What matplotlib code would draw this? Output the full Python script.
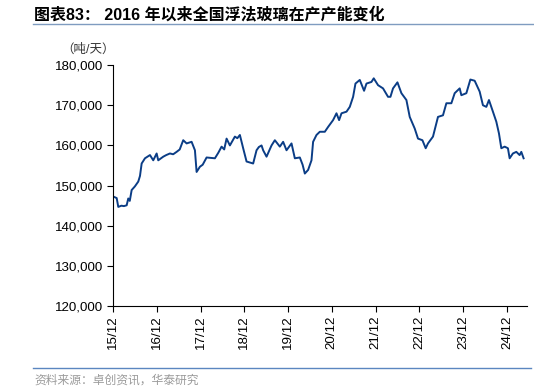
import numpy as np
import pandas as pd
import matplotlib
matplotlib.use("Agg")
import matplotlib.pyplot as plt

plt.rcParams['font.family'] = ['Liberation Sans', 'Noto Sans CJK SC', 'DejaVu Sans']

# 月份偏移(自2015-12起) 与 在产产能(吨/天)
months = [0.0, 0.27, 1.01, 1.45, 2.3, 3.0, 3.75, 4.19, 4.6, 5.12, 6.0, 6.93, 7.4, 7.86,
          8.77, 10.14, 11.04, 11.97, 12.41, 13.78, 14.6, 15.62, 16.5, 17.45, 18.3, 19.26,
          20.19, 21.56, 22.47, 22.93, 23.84, 24.6, 25.67, 27.95, 28.9, 29.78, 30.5, 31.15,
          32.06, 33.43, 34.1, 34.80, 35.70, 36.63, 38.44, 39.37, 40.0, 40.74, 41.18, 42.11,
          43.48, 44.39, 45.76, 46.66, 47.59, 48.96, 49.87, 51.24, 52.0, 52.61, 53.51, 54.44,
          54.88, 55.81, 56.72, 58.09, 58.99, 60.36, 61.29, 62.01, 62.67, 64.04, 64.94, 65.85,
          66.5, 67.68, 68.86, 69.52, 70.88, 71.51, 72.69, 74.06, 75.43, 76.09, 76.80, 78.01,
          79.10, 80.47, 81.38, 82.75, 83.65, 84.86, 85.76, 86.39, 87.76, 89.13, 90.50, 91.43,
          92.80, 93.71, 95.08, 95.54, 96.91, 98.01, 99.19, 100.56, 101.46, 102.39, 103.11,
          104.20, 105.13, 105.85, 106.50, 107.41, 108.31, 108.78, 109.68, 110.61, 111.52,
          111.98, 112.61]
capacity = [147300, 147200, 146900, 144700, 145000, 144900, 145100, 146800, 146200, 148900,
            149800, 151000, 152400, 155500, 156800, 157600, 156300, 158000, 156300, 157200,
            157600, 158000, 157800, 158400, 159000, 161300, 160500, 160900, 158800, 153400,
            154700, 155200, 157000, 156800, 158200, 159700, 159000, 161700, 160000, 162200,
            161800, 162600, 159300, 156000, 155500, 158800, 159600, 160000, 158800, 157200,
            160000, 161300, 159700, 160900, 158800, 160500, 156800, 157000, 155200, 153000,
            153900, 156300, 160900, 162600, 163400, 163400, 164600, 166300, 168000,
            166300, 168000, 168400, 169600, 172100, 175400, 176300, 173600, 175400, 175800,
            176700, 175000, 174200, 172100, 172100, 174200, 175700, 173000, 171300, 167100,
            164200, 161700, 161300, 159300, 160500, 162200, 167100, 167500, 170500, 170500,
            173000, 174200, 172500, 173000, 176400, 176100, 173400, 170000, 169600, 171300,
            168400, 165900, 163000, 159300, 159700, 159300, 156800, 158000, 158400, 157600,
            158400, 156800]

y_ticks = [120000, 130000, 140000, 150000, 160000, 170000, 180000]

base = pd.Timestamp("2015-12-01")
dates = base + pd.to_timedelta(np.array(months) * 30.4375, unit="D")
tick_dates = pd.date_range("2015-12-01", periods=10, freq="12MS")

fig = plt.figure(figsize=(5.34, 3.92), dpi=100)
ax = fig.add_axes([0.2116, 0.219, 0.775, 0.615])

ax.plot(dates, capacity, color="#0b3d86", linewidth=1.4)

ax.set_ylim(120000, 180000)
ax.set_yticks(y_ticks)
ax.set_yticklabels([f"{v:,}" for v in y_ticks], fontsize=9.6)
ax.set_xlim(base, base + pd.Timedelta(days=113.5 * 30.4375))
ax.set_xticks(tick_dates)
ax.set_xticklabels([d.strftime("%y/%m") for d in tick_dates], rotation=90, fontsize=9.6)

for s in ["top", "right"]:
    ax.spines[s].set_visible(False)
ax.tick_params(direction="out", length=4, width=0.8, pad=3)

# 标题、单位、来源
fig.text(0.064, 0.962, "图表83： 2016 年以来全国浮法玻璃在产产能变化", fontsize=11.5,
         fontweight="bold", va="center", ha="left")
fig.add_artist(plt.Line2D([0.062, 1.0], [0.940, 0.940], color="#7f9cc0", linewidth=1))
fig.text(0.115, 0.873, "（吨/天）", fontsize=9, color="#333333", va="center", ha="left")
fig.add_artist(plt.Line2D([0.062, 0.995], [0.062, 0.062], color="#5b86c0", linewidth=1))
fig.text(0.064, 0.030, "资料来源：卓创资讯，华泰研究", fontsize=8.5, color="#9a9a9a",
         va="center", ha="left")

fig.savefig("out.png", dpi=100)
